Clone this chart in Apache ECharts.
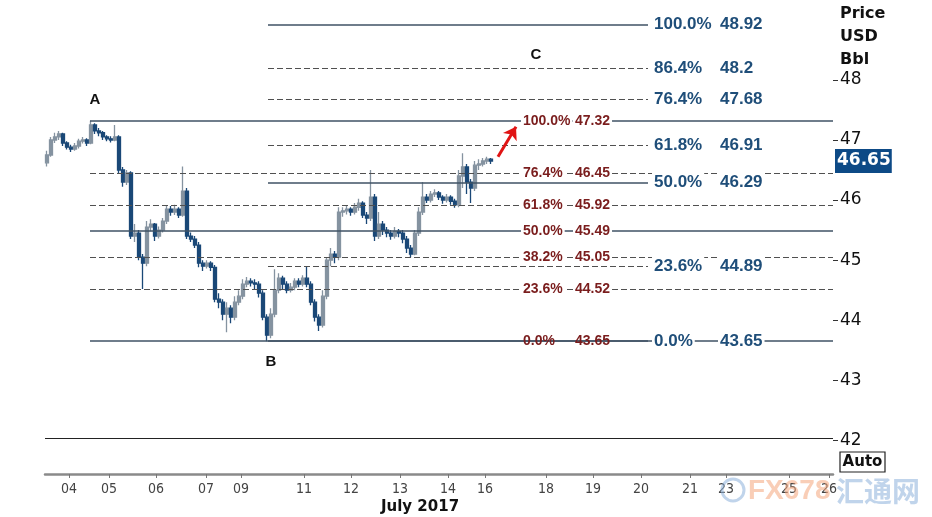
<!DOCTYPE html>
<html><head><meta charset="utf-8">
<script src="https://cdn.jsdelivr.net/npm/echarts@6/dist/echarts.min.js"></script>
<style>html,body{margin:0;padding:0;background:#fff}#c{width:932px;height:517px}</style>
</head><body><div id="c"></div>
<script>
// OHLC candles: [open, close, low, high]
const candles = [
[46.62,46.75,46.56,46.82],[46.75,47.0,46.72,47.05],[47.0,47.05,46.95,47.12],[47.05,47.1,47.0,47.15],
[47.1,46.95,46.9,47.12],[46.95,46.88,46.84,46.98],[46.88,46.85,46.8,46.92],[46.85,46.9,46.82,46.95],
[46.9,46.98,46.86,47.02],[46.98,47.0,46.94,47.05],[47.0,46.95,46.9,47.03],[46.95,47.25,46.93,47.32],
[47.25,47.15,47.1,47.28],[47.15,47.12,47.06,47.2],[47.12,47.05,47.0,47.15],[47.05,47.02,46.98,47.08],
[47.02,47.0,46.96,47.06],[47.0,47.05,46.98,47.25],[47.05,46.5,46.45,47.08],[46.5,46.3,46.22,46.55],
[46.3,46.45,46.25,46.5],[46.45,45.4,45.35,46.48],[45.4,45.45,45.3,45.6],[45.45,45.05,45.0,45.5],
[45.05,44.95,44.52,45.1],[44.95,45.55,44.9,45.65],[45.55,45.6,45.48,45.68],[45.6,45.4,45.32,45.62],
[45.4,45.5,45.36,45.56],[45.5,45.65,45.46,45.7],[45.65,45.85,45.6,45.9],[45.85,45.8,45.74,45.9],
[45.8,45.85,45.75,45.92],[45.85,45.75,45.7,45.88],[45.75,46.15,45.72,46.56],[46.15,45.4,45.35,46.2],
[45.4,45.35,45.3,45.46],[45.35,45.25,45.2,45.4],[45.25,44.95,44.88,45.3],[44.95,44.9,44.82,45.0],
[44.9,44.95,44.86,45.0],[44.95,44.88,44.82,44.98],[44.88,44.35,44.3,44.92],[44.35,44.3,44.2,44.45],
[44.3,44.1,44.0,44.35],[44.1,44.2,43.8,44.3],[44.2,44.05,43.95,44.25],[44.05,44.3,44.0,44.4],
[44.3,44.4,44.25,44.5],[44.4,44.6,44.35,44.68],[44.6,44.65,44.55,44.72],[44.65,44.62,44.56,44.7],
[44.62,44.6,44.52,44.68],[44.6,44.45,44.38,44.65],[44.45,44.05,44.0,44.5],[44.05,43.75,43.65,44.1],
[43.75,44.1,43.7,44.2],[44.1,44.5,44.05,44.85],[44.5,44.7,44.45,44.78],[44.7,44.6,44.52,44.74],
[44.6,44.5,44.45,44.65],[44.5,44.55,44.46,44.62],[44.55,44.65,44.5,44.7],[44.65,44.6,44.55,44.7],
[44.6,44.7,44.56,44.75],[44.7,44.6,44.55,44.9],[44.6,44.3,44.25,44.65],[44.3,44.05,43.98,44.35],
[44.05,43.92,43.82,44.1],[43.92,44.4,43.88,44.5],[44.4,45.0,44.35,45.05],[45.0,45.1,44.9,45.2],
[45.1,45.05,44.95,45.15],[45.05,45.8,45.0,45.88],[45.8,45.82,45.72,45.88],[45.82,45.85,45.76,45.9],
[45.85,45.8,45.74,45.88],[45.8,45.88,45.76,45.95],[45.88,45.95,45.82,46.02],[45.95,45.75,45.7,45.98],
[45.75,45.7,45.6,45.8],[45.7,46.05,45.65,46.5],[46.05,45.4,45.32,46.1],[45.4,45.6,45.35,45.8],
[45.6,45.5,45.42,45.65],[45.5,45.45,45.38,45.55],[45.45,45.4,45.34,45.5],[45.4,45.48,45.36,45.55],
[45.48,45.45,45.38,45.52],[45.45,45.35,45.28,45.5],[45.35,45.2,45.12,45.4],[45.2,45.1,45.05,45.25],
[45.1,45.45,45.08,45.5],[45.45,45.8,45.4,45.88],[45.8,46.05,45.75,46.3],[46.05,46.0,45.95,46.1],
[46.0,46.1,45.96,46.15],[46.1,46.12,46.05,46.18],[46.12,46.05,46.0,46.15],[46.05,46.0,45.94,46.08],
[46.0,46.05,45.96,46.1],[46.05,45.98,45.92,46.08],[45.98,45.92,45.87,46.02],[45.92,46.4,45.88,46.5],
[46.4,46.55,46.2,46.78],[46.55,46.3,46.1,46.6],[46.3,46.2,45.95,46.35],[46.2,46.58,46.15,46.65],
[46.58,46.6,46.5,46.68],[46.6,46.65,46.56,46.7],[46.65,46.68,46.6,46.72],[46.68,46.65,46.6,46.7]
];
const slotCount = 197;
const dayLabels = ['04','05','06','07','09','11','12','13','14','16','18','19','20','21','23','25','26'];
const dayPos = [5.5,15.5,27.25,39.75,48.5,64.25,76,88.25,100.25,109.5,124.75,136.5,148.5,160.75,169.75,185.5,195.5];
const priceTicks = [42,43,44,45,46,47,48];
// retracement A->B (red)
const redPct = ['100.0%','76.4%','61.8%','50.0%','38.2%','23.6%','0.0%'];
const redVal = [47.32,46.45,45.92,45.49,45.05,44.52,43.65];
const redDash = [false,true,true,false,true,true,false];
// projection (blue)
const bluePct = ['100.0%','86.4%','76.4%','61.8%','50.0%','23.6%','0.0%'];
const blueVal = [48.92,48.2,47.68,46.91,46.29,44.89,43.65];
const blueDash = [false,true,true,true,false,true,false];
const pivotNames = ['A','B','C'];
const pivotPos = [[12,47.665],[56,43.30],[122.25,48.414]];
const lastPrice = 46.65;
const floorLine = 42.04;
const arrowFrom = [112.75,46.72], arrowTo = [117.25,47.22];

const cats = Array.from({length: slotCount}, (_, i) => String(i));
const X = {redStart:10.75, blueStart:55.25, blueEnd:150.25, end:196.5, redPctX:118.5, redValX:131.5, bluePctX:151.25, blueValX:167.75};

const solidC = '#3f5264', dashC = '#505050';
const fibLines = [];
redVal.forEach((v,k)=>fibLines.push([{coord:[X.redStart,v],lineStyle:{color:redDash[k]?dashC:solidC,width:redDash[k]?1.2:1.5,type:redDash[k]?[6,3]:'solid'}},{coord:[X.end,v]}]));
blueVal.forEach((v,k)=>fibLines.push([{coord:[X.blueStart,v],lineStyle:{color:blueDash[k]?dashC:solidC,width:blueDash[k]?1.2:1.5,type:blueDash[k]?[6,3]:'solid'}},{coord:[X.blueEnd,v]}]));
fibLines.push([{coord:[-0.5,floorLine],lineStyle:{color:'#222',width:1,type:'solid'}},{coord:[X.end,floorLine]}]);

const redFont = {color:'#7a1d1d',fontWeight:'bold',fontSize:14,fontFamily:'Liberation Sans, Arial',backgroundColor:'#fff',padding:[1,2]};
const blueFont = {color:'#1f4e79',fontWeight:'bold',fontSize:17,fontFamily:'Liberation Sans, Arial',backgroundColor:'#fff',padding:[2,2]};
const labelData = [];
redVal.forEach((v,k)=>{
  const f = k === redVal.length-1 ? Object.assign({}, redFont, {backgroundColor:'transparent'}) : redFont;
  labelData.push({value:[X.redPctX,v],label:Object.assign({formatter:redPct[k]},f)});
  labelData.push({value:[X.redValX,v],label:Object.assign({formatter:String(v.toFixed(2))},f)});
});
blueVal.forEach((v,k)=>{
  labelData.push({value:[X.bluePctX,v],label:Object.assign({formatter:bluePct[k]},blueFont)});
  labelData.push({value:[X.blueValX,v],label:Object.assign({formatter:String(v)},blueFont)});
});
const pivotData = pivotNames.map((n,k)=>({value:pivotPos[k],label:{formatter:n}}));
const clear = {color:'rgba(0,0,0,0)',borderColor:'rgba(0,0,0,0)',opacity:1};

const chart = echarts.init(document.getElementById('c'));
chart.setOption({
  animation:false,
  backgroundColor:'#fff',
  grid:{left:45,right:99,top:0,bottom:43,containLabel:false},
  xAxis:[
    {type:'category',data:cats,boundaryGap:true,show:false},
    {type:'value',min:-0.5,max:slotCount-0.5,position:'bottom',
     axisLine:{show:true,onZero:false,lineStyle:{color:'#8a8a8a',width:2.5}},
     axisTick:{show:true,customValues:dayPos,length:4,lineStyle:{color:'#777'}},
     axisLabel:{customValues:dayPos,margin:8,fontSize:14,fontFamily:'DejaVu Sans Condensed, DejaVu Sans',color:'#444',
       formatter:(v)=>{const k=dayPos.indexOf(v);return k>=0?dayLabels[k]:'';}},
     splitLine:{show:false}}
  ],
  yAxis:{type:'value',position:'right',min:41.44,max:49.33,scale:true,
    axisLine:{show:true,onZero:false,lineStyle:{color:'rgba(0,0,0,0)'}},splitLine:{show:false},
    axisTick:{show:true,customValues:priceTicks,length:5,lineStyle:{color:'#333',width:1}},
    axisLabel:{customValues:priceTicks,margin:7,fontSize:17,fontFamily:'DejaVu Sans',color:'#111'}},
  series:[
    {type:'scatter',xAxisIndex:1,data:[[0,45]],symbolSize:0,itemStyle:clear,z:1,silent:true,
     markLine:{silent:true,symbol:['none','none'],label:{show:false},data:fibLines,animation:false}},
    {type:'candlestick',xAxisIndex:0,data:candles,barWidth:3,z:3,
     itemStyle:{color:'#8593a0',color0:'#1a4877',borderColor:'#8593a0',borderColor0:'#1a4877',borderWidth:1.3}},
    {type:'scatter',xAxisIndex:1,data:[[0,45]],symbolSize:0,itemStyle:clear,z:4,silent:true,
     markLine:{silent:true,symbol:['none','arrow'],symbolSize:12,label:{show:false},
       lineStyle:{color:'#e01414',width:3,type:'solid'},
       data:[[{coord:arrowFrom},{coord:arrowTo}]]}},
    {type:'scatter',xAxisIndex:1,data:labelData,symbolSize:0,itemStyle:clear,z:6,silent:true,clip:false,
     label:{show:true,position:'right',distance:0}},
    {type:'scatter',xAxisIndex:1,data:pivotData,symbolSize:0,itemStyle:clear,z:6,silent:true,
     label:{show:true,position:'inside',color:'#111',fontWeight:'bold',fontSize:15,fontFamily:'Liberation Sans, Arial',textBorderWidth:0}},
    {type:'scatter',xAxisIndex:1,data:[[slotCount-0.5,lastPrice]],symbolSize:0,itemStyle:clear,z:7,silent:true,clip:false,
     label:{show:true,position:'right',distance:2,formatter:(p)=>p.value[1].toFixed(2),color:'#fff',fontWeight:'bold',
       fontSize:17,fontFamily:'DejaVu Sans',backgroundColor:'#0d4a86',padding:[4,1,3,2]}}
  ],
  graphic:[
    {type:'text',x:840,y:2,z:10,style:{text:'Price\nUSD\nBbl',font:'bold 16px DejaVu Sans',fill:'#111',lineHeight:23}},
    {type:'rect',z:10,shape:{x:840,y:452,width:45,height:20},style:{fill:'#fff',stroke:'#222',lineWidth:1.2}},
    {type:'text',x:862.5,y:462,z:11,style:{text:'Auto',font:'bold 15px DejaVu Sans',fill:'#111',align:'center',verticalAlign:'middle'}},
    {type:'text',x:420,y:507,z:10,style:{text:'July 2017',font:'bold 15px DejaVu Sans',fill:'#111',align:'center',verticalAlign:'middle'}},
    {type:'circle',z:12,shape:{cx:733,cy:490,r:11},style:{fill:'none',stroke:'#8db1db',lineWidth:3,opacity:0.55}},
    {type:'text',x:748,y:491,z:12,style:{text:'FX678',font:'bold 28px Liberation Sans',fill:'#f4a57c',opacity:0.55,verticalAlign:'middle'}},
    {type:'text',x:836,y:491,z:12,style:{text:'汇通网',font:'bold 28px Noto Sans CJK SC',fill:'#8db1db',opacity:0.55,verticalAlign:'middle'}}
  ]
});
</script></body></html>
